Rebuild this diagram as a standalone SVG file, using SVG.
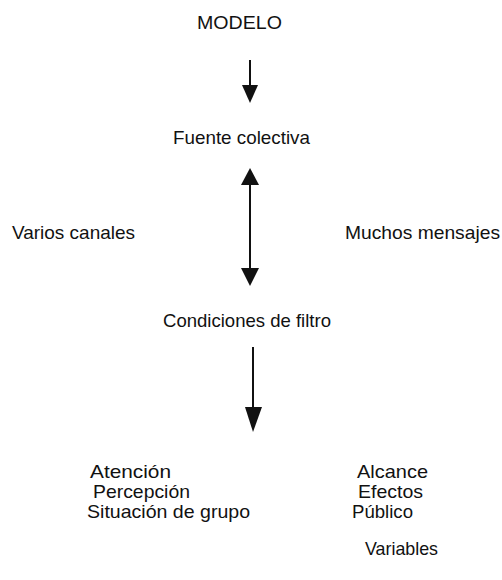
<svg xmlns="http://www.w3.org/2000/svg" width="502" height="580" viewBox="0 0 502 580">
<style>
text{font-family:"Liberation Sans","Noto Sans",sans-serif;font-size:18.5px;fill:#111}
.ln{stroke:#111;stroke-width:2;fill:none}
.hd{fill:#111}
</style>
<rect width="502" height="580" fill="#fff"/>
<g id="modelo"><text x="197" y="29" textLength="85" lengthAdjust="spacingAndGlyphs">MODELO</text></g>
<g id="fuente"><text x="173" y="144" textLength="137" lengthAdjust="spacingAndGlyphs">Fuente colectiva</text></g>
<g id="canales"><text x="12" y="239" textLength="123" lengthAdjust="spacingAndGlyphs">Varios canales</text></g>
<g id="mensajes"><text x="345" y="239" textLength="155" lengthAdjust="spacingAndGlyphs">Muchos mensajes</text></g>
<g id="condiciones"><text x="163" y="327" textLength="168" lengthAdjust="spacingAndGlyphs">Condiciones de filtro</text></g>
<g id="factores-izq">
<text x="90" y="478" textLength="81" lengthAdjust="spacingAndGlyphs">Atención</text>
<text x="93" y="498" textLength="97" lengthAdjust="spacingAndGlyphs">Percepción</text>
<text x="87" y="518" textLength="163" lengthAdjust="spacingAndGlyphs">Situación de grupo</text>
</g>
<g id="factores-der">
<text x="357" y="478" textLength="71" lengthAdjust="spacingAndGlyphs">Alcance</text>
<text x="358" y="498" textLength="65" lengthAdjust="spacingAndGlyphs">Efectos</text>
<text x="352" y="518" textLength="61" lengthAdjust="spacingAndGlyphs">Público</text>
<text x="365" y="555" textLength="73" lengthAdjust="spacingAndGlyphs">Variables</text>
</g>
<g id="connectors">
<line class="ln" x1="250" y1="60" x2="250" y2="88"/>
<polygon class="hd" points="242,85 258,85 250,103"/>
<line class="ln" x1="250" y1="182" x2="250" y2="270"/>
<polygon class="hd" points="241,185 259,185 250,168"/>
<polygon class="hd" points="241,268 259,268 250,286"/>
<line class="ln" x1="253" y1="347" x2="253" y2="410"/>
<polygon class="hd" points="245,407 262,407 253,432"/>
</g>
</svg>
